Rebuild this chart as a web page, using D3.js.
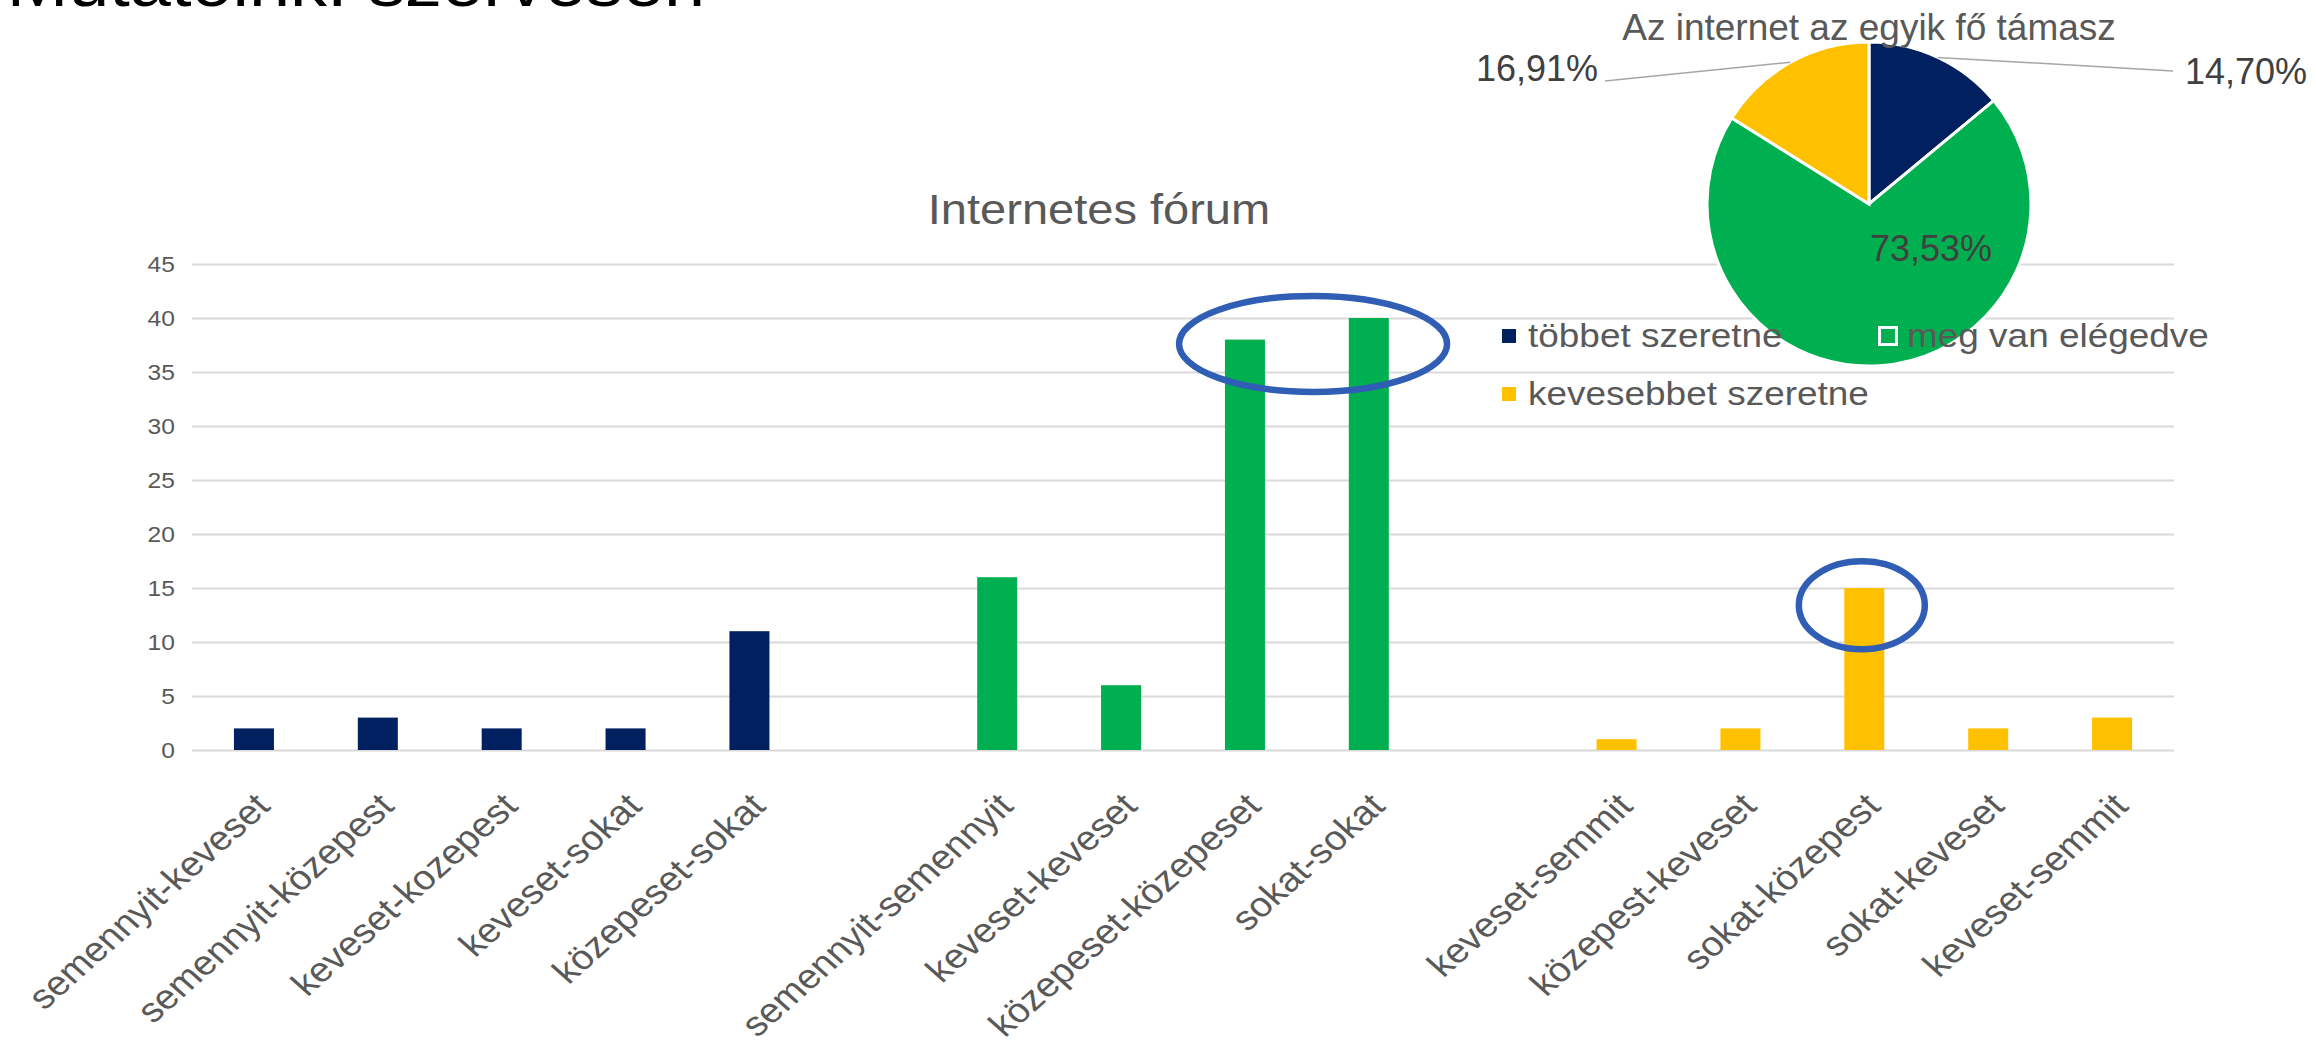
<!DOCTYPE html>
<html>
<head>
<meta charset="utf-8">
<script src="https://cdn.jsdelivr.net/npm/d3@7"></script>
<style>
  body { margin: 0; background: #fff; }
  svg { display: block; font-family: "Liberation Sans", Arial, sans-serif; }
</style>
</head>
<body>
<div id="chart"></div>
<script>
// bar chart data (blank slots separate the three groups)
const categories = ["semennyit-keveset", "semennyit-közepest", "keveset-kozepest", "keveset-sokat", "közepeset-sokat", "",
  "semennyit-semennyit", "keveset-keveset", "közepeset-közepeset", "sokat-sokat", "",
  "keveset-semmit", "közepest-keveset", "sokat-közepest", "sokat-keveset", "keveset-semmit"]
const values = [2, 3, 2, 2, 11, null, 16, 6, 38, 40, null, 1, 2, 15, 2, 3]
const seriesOf = [0, 0, 0, 0, 0, null, 1, 1, 1, 1, null, 2, 2, 2, 2, 2]
const seriesNames = ["többet szeretne", "meg van elégedve", "kevesebbet szeretne"]
const seriesColors = ["#002060", "#00B050", "#FFC000"]
const yTicks = [0, 5, 10, 15, 20, 25, 30, 35, 40, 45]

// pie data
const pieValues = [20, 100, 23]
const pieLabels = ["14,70%", "73,53%", "16,91%"]

// highlighted bars (blue ellipses), position given in category slots
const highlights = [
  { at: 9.05, value: 37.6, rx: 134, ry: 48 },
  { at: 13.48, value: 13.4, rx: 63, ry: 44 }
]

const width = 2316, height = 1046
const sx = 1.12 // slide text is drawn a little wide

const svg = d3.select("#chart").append("svg")
  .attr("width", width)
  .attr("height", height)

// cut-off slide heading at the very top
svg.append("text")
  .attr("transform", `translate(705,6) scale(${sx},1)`)
  .attr("text-anchor", "end")
  .attr("font-size", 66)
  .attr("fill", "#000")
  .text("Mutatóink: szervesen")

const x = d3.scaleBand()
  .domain(d3.range(categories.length))
  .range([192, 2174])
  .padding(0)

const slot = d3.scaleLinear()
  .domain([0, categories.length])
  .range([192, 2174])

const y = d3.scaleLinear()
  .domain([0, 45])
  .range([750, 264])

const barW = x.bandwidth() * 0.323

// y axis + gridlines
const yAxis = svg.append("g")
  .attr("transform", "translate(192,0)")
  .call(d3.axisLeft(y).tickValues(yTicks).tickSize(-(2174 - 192)).tickPadding(0))

yAxis.select(".domain").remove()
yAxis.selectAll("line")
  .attr("stroke", "#d9d9d9")
  .attr("stroke-width", 2)
yAxis.selectAll("text")
  .attr("x", -17 / sx)
  .attr("dy", "0.36em")
  .attr("transform", `scale(${sx},1)`)
  .attr("font-size", 22)
  .attr("font-family", "Liberation Sans, Arial, sans-serif")
  .attr("fill", "#595959")

// chart title
svg.append("text")
  .attr("transform", `translate(1099,224) scale(${sx},1)`)
  .attr("text-anchor", "middle")
  .attr("font-size", 42)
  .attr("fill", "#595959")
  .text("Internetes fórum")

// bars
svg.append("g")
  .selectAll("rect")
  .data(values.map((v, i) => ({ i: i, v: v, s: seriesOf[i] })).filter(d => d.v != null))
  .join("rect")
  .attr("x", d => x(d.i) + (x.bandwidth() - barW) / 2)
  .attr("y", d => y(d.v))
  .attr("width", barW)
  .attr("height", d => y(0) - y(d.v))
  .attr("fill", d => seriesColors[d.s])

// category labels
svg.append("g")
  .selectAll("text")
  .data(categories.map((c, i) => ({ i: i, c: c })).filter(d => d.c != ""))
  .join("text")
  .attr("transform", d => `translate(${x(d.i) + x.bandwidth() / 2 + 18},${y(0) + 58}) scale(${sx},1) rotate(-45)`)
  .attr("text-anchor", "end")
  .attr("font-size", 34.5)
  .attr("fill", "#595959")
  .text(d => d.c)

// pie
const cx = 1869, cy = 204, r = 162
const pie = d3.pie().sort(null).value(d => d)
const arcs = pie(pieValues)
const arc = d3.arc().innerRadius(0).outerRadius(r)

const pieG = svg.append("g").attr("transform", `translate(${cx},${cy})`)
pieG.selectAll("path")
  .data(arcs)
  .join("path")
  .attr("d", arc)
  .attr("fill", (d, i) => seriesColors[i])
  .attr("stroke", "#fff")
  .attr("stroke-width", 3)

svg.append("text")
  .attr("x", cx)
  .attr("y", 40)
  .attr("text-anchor", "middle")
  .attr("font-size", 37)
  .attr("fill", "#595959")
  .text("Az internet az egyik fő támasz")

// label placement relative to the pie centre
const labelPos = [
  { dx: 316, dy: -120, anchor: "start", leader: true },
  { dx: 1, dy: 57, anchor: "start", leader: false },
  { dx: -271, dy: -123, anchor: "end", leader: true }
]

arcs.forEach(function (a, i) {
  var p = labelPos[i]
  var mid = (a.startAngle + a.endAngle) / 2
  var lx = cx + p.dx, ly = cy + p.dy
  if (p.leader) {
    var ex = p.anchor == "start" ? lx - 12 : lx + 7
    var ey = p.anchor == "start" ? ly - 13 : ly
    svg.append("line")
      .attr("x1", cx + r * Math.sin(mid))
      .attr("y1", cy - r * Math.cos(mid))
      .attr("x2", ex)
      .attr("y2", ey)
      .attr("stroke", "#a6a6a6")
      .attr("stroke-width", 1.5)
  }
  svg.append("text")
    .attr("x", lx)
    .attr("y", ly)
    .attr("text-anchor", p.anchor)
    .attr("font-size", 36)
    .attr("fill", "#404040")
    .text(pieLabels[i])
})

// legend
const legend = svg.append("g")
  .selectAll("g")
  .data(seriesNames)
  .join("g")
  .attr("transform", (d, i) => `translate(${1502 + (i % 2) * 379},${336 + Math.floor(i / 2) * 58})`)

legend.append("rect")
  .attr("x", -1.5)
  .attr("y", -8.5)
  .attr("width", 17)
  .attr("height", 17)
  .attr("fill", (d, i) => seriesColors[i])
  .attr("stroke", "#fff")
  .attr("stroke-width", 3)

legend.append("text")
  .attr("transform", `translate(26,11) scale(${sx},1)`)
  .attr("font-size", 33)
  .attr("fill", "#595959")
  .text(d => d)

// highlight ellipses
svg.append("g")
  .selectAll("ellipse")
  .data(highlights)
  .join("ellipse")
  .attr("cx", d => slot(d.at))
  .attr("cy", d => y(d.value))
  .attr("rx", d => d.rx)
  .attr("ry", d => d.ry)
  .attr("fill", "none")
  .attr("stroke", "#2F5EB4")
  .attr("stroke-width", 6.5)
</script>
</body>
</html>
